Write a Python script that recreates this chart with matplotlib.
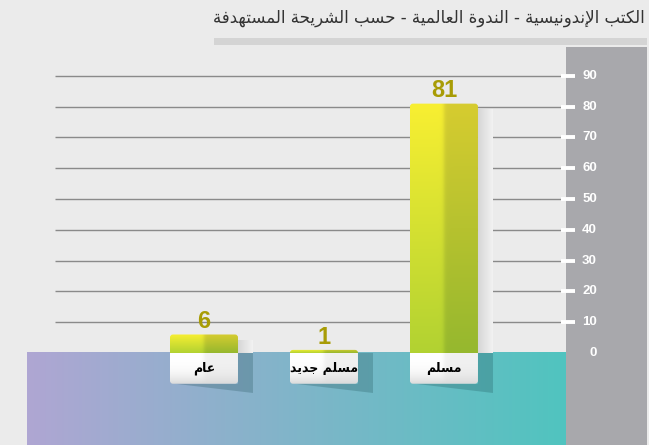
import numpy as np
import matplotlib.pyplot as plt
from matplotlib.patches import FancyBboxPatch, Polygon, Rectangle

# Chart data (right-to-left order as shown)
categories = ["مسلم", "مسلم جديد", "عام"]
values = [81, 1, 6]
yticks = list(range(0, 100, 10))
title = "الكتب الإندونيسية - الندوة العالمية - حسب الشريحة المستهدفة"

# Minimal Arabic shaping (matplotlib does no shaping / RTL on its own).
FORMS = {
    'ا': (0xFE8D, 0xFE8E, None, None),
    'إ': (0xFE87, 0xFE88, None, None),
    'ب': (0xFE8F, 0xFE90, 0xFE91, 0xFE92),
    'ة': (0xFE93, 0xFE94, None, None),
    'ت': (0xFE95, 0xFE96, 0xFE97, 0xFE98),
    'ج': (0xFE9D, 0xFE9E, 0xFE9F, 0xFEA0),
    'ح': (0xFEA1, 0xFEA2, 0xFEA3, 0xFEA4),
    'د': (0xFEA9, 0xFEAA, None, None),
    'ر': (0xFEAD, 0xFEAE, None, None),
    'س': (0xFEB1, 0xFEB2, 0xFEB3, 0xFEB4),
    'ش': (0xFEB5, 0xFEB6, 0xFEB7, 0xFEB8),
    'ع': (0xFEC9, 0xFECA, 0xFECB, 0xFECC),
    'ف': (0xFED1, 0xFED2, 0xFED3, 0xFED4),
    'ك': (0xFED9, 0xFEDA, 0xFEDB, 0xFEDC),
    'ل': (0xFEDD, 0xFEDE, 0xFEDF, 0xFEE0),
    'م': (0xFEE1, 0xFEE2, 0xFEE3, 0xFEE4),
    'ن': (0xFEE5, 0xFEE6, 0xFEE7, 0xFEE8),
    'ه': (0xFEE9, 0xFEEA, 0xFEEB, 0xFEEC),
    'و': (0xFEED, 0xFEEE, None, None),
    'ي': (0xFEF1, 0xFEF2, 0xFEF3, 0xFEF4),
    'لا': (0xFEFB, 0xFEFC, None, None),
    'لإ': (0xFEF9, 0xFEFA, None, None),
}


def shape(text):
    toks = []
    i = 0
    while i < len(text):
        if text[i] == 'ل' and text[i:i + 2] in FORMS:
            toks.append(text[i:i + 2])
            i += 2
        else:
            toks.append(text[i])
            i += 1
    out = []
    for k, t in enumerate(toks):
        if t not in FORMS:
            out.append(t)
            continue
        prev = toks[k - 1] if k > 0 else None
        nxt = toks[k + 1] if k + 1 < len(toks) else None
        jp = prev in FORMS and FORMS[prev][2] is not None
        jn = nxt in FORMS and FORMS[t][2] is not None
        iso, fin, ini, med = FORMS[t]
        if jp and jn:
            c = med
        elif jp:
            c = fin
        elif jn:
            c = ini
        else:
            c = iso
        out.append(chr(c))
    return ''.join(out[::-1])


def hexrgb(h):
    h = h.lstrip('#')
    return np.array([int(h[i:i + 2], 16) for i in (0, 2, 4)]) / 255.0


# pixel -> data unit helpers
PX_X = 1 / 120
PX_Y = 90 / 277
ASPECT = PX_Y / PX_X
XMIN, XMAX = -1.475, 3.692
YMIN, YMAX = -29.9, 99.4
FLOOR_R = 3.017

fig = plt.figure(figsize=(6.49, 4.45), dpi=100, facecolor='#EBEBEB')
ax = fig.add_axes([27 / 649, 0, 620 / 649, 398 / 445])
ax.axis('off')

# Floor gradient
floor = np.linspace(0, 1, 200)[None, :, None]
floor_img = hexrgb('#AFA6D3') * (1 - floor) + hexrgb('#50C4BF') * floor
ax.imshow(floor_img, extent=[XMIN, FLOOR_R, YMIN, 0], aspect='auto', zorder=1,
          interpolation='bilinear')

# Right panel
ax.add_patch(Rectangle((FLOOR_R, YMIN), XMAX - FLOOR_R, YMAX - YMIN,
                       facecolor='#A8A8AC', edgecolor='none', zorder=1))

# Grid, ticks and tick labels
ax.hlines(yticks[1:], -1.242, 2.975, color='#8A8A8A', lw=1, zorder=2)
ax.hlines(yticks[1:], 2.975, 3.092, color='white', lw=2.8, zorder=2)
for t in yticks:
    ax.text(3.275, t, str(t), ha='right', va='center', color='white',
            fontsize=9.5, fontweight='bold', family='Liberation Sans', zorder=6)

w = 68 * PX_X
sw = 15 * PX_X
box_h = 10
rad = 3 * PX_X
xpos = np.arange(len(categories))[::-1]

# Bar gradient image
rows = np.linspace(0, 1, 64)[:, None, None]
cols = np.linspace(0, 1, 64)[None, :, None]
split = 1 / (1 + np.exp(-(cols - 0.5) * 60))
top = hexrgb('#F8EF32') * (1 - split) + hexrgb('#D6CC30') * split
bot = hexrgb('#B2D232') * (1 - split) + hexrgb('#96B82E') * split
bar_img = top * (1 - rows) + bot * rows

box_top = hexrgb('#FFFFFF') * (1 - split) + hexrgb('#F1F1F1') * split
box_img = box_top * (1 - rows ** 3) + hexrgb('#DADADA') * rows ** 3
shade = np.linspace(0, 1, 16)[None, :, None]
shadow_img = hexrgb('#D6D6D6') * (1 - shade) + hexrgb('#F2F2F2') * shade

for cat, v, c in zip(categories, values, xpos):
    x0, x1 = c - w / 2, c + w / 2

    # shadow strip beside the bar
    if v - 2 > 0:
        ax.imshow(shadow_img, extent=[x1, x1 + sw, 0, v - 2], aspect='auto',
                  zorder=3, interpolation='bilinear')
    ax.add_patch(Polygon([(x0 + 5 * PX_X, -box_h), (x1 + sw, -13), (x1 + sw, 0),
                          (x1, 0), (x1, -box_h)],
                         closed=True, facecolor='#0B3A3E', alpha=0.22,
                         edgecolor='none', zorder=3))

    # bar
    clip = FancyBboxPatch((x0, -3), w, v + 3,
                          boxstyle=f"round,pad=0,rounding_size={rad}",
                          mutation_aspect=ASPECT, facecolor='none',
                          edgecolor='none')
    ax.add_patch(clip)
    im = ax.imshow(bar_img, extent=[x0, x1, 0, v], aspect='auto', zorder=4,
                   interpolation='bilinear')
    im.set_clip_path(clip)

    # label box
    bclip = FancyBboxPatch((x0, -box_h), w, box_h + 3,
                           boxstyle=f"round,pad=0,rounding_size={rad}",
                           mutation_aspect=ASPECT, facecolor='none',
                           edgecolor='none')
    ax.add_patch(bclip)
    bim = ax.imshow(box_img, extent=[x0, x1, -box_h, 0], aspect='auto',
                    zorder=5, interpolation='bilinear')
    bim.set_clip_path(bclip)
    ax.text(c, -box_h / 2, shape(cat), ha='center', va='center', fontsize=9,
            fontweight='bold', color='black', family='DejaVu Sans', zorder=6)

    # value label
    ax.annotate(str(v), (c, v), xytext=(0, 4.5), textcoords='offset points',
                ha='center', va='baseline', fontsize=17, fontweight='bold',
                color='#A89C05', family='Liberation Sans', zorder=6)

ax.set_xlim(XMIN, XMAX)
ax.set_ylim(YMIN, YMAX)

# Title and the bar under it
fig.add_artist(Rectangle((214 / 649, 1 - 45 / 445), 433 / 649, 7 / 445,
                         transform=fig.transFigure, facecolor='#D4D4D4',
                         edgecolor='none'))
fig.text(645 / 649, 1 - 18 / 445, shape(title), ha='right', va='center',
         fontsize=12, color='#333333', family='DejaVu Sans')

fig.savefig('out.png', dpi=100, facecolor=fig.get_facecolor())
